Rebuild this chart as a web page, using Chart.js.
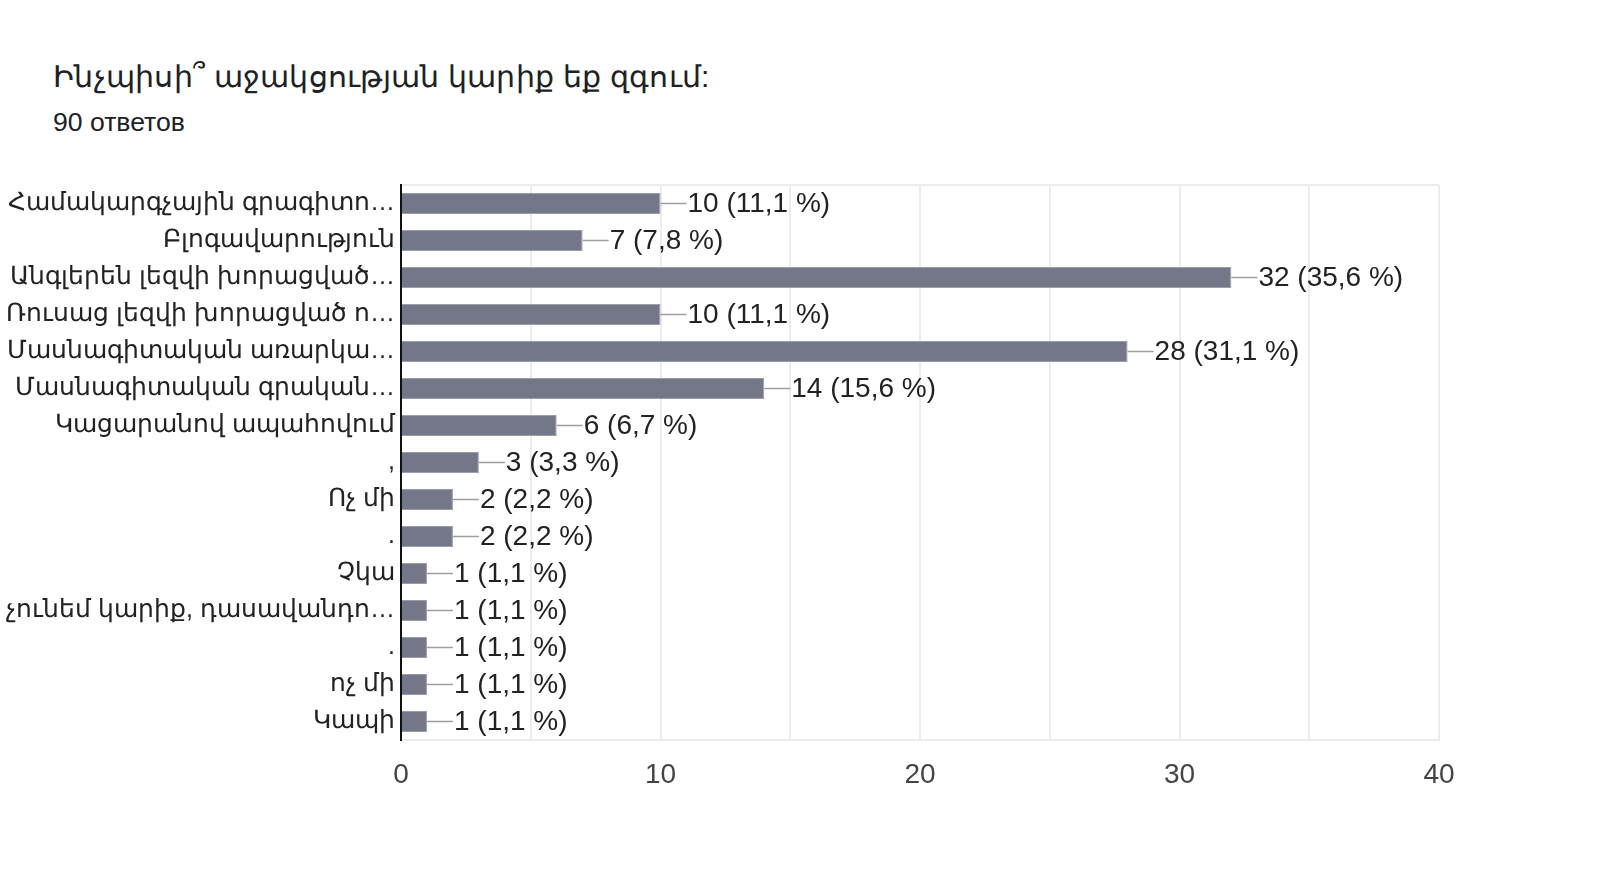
<!DOCTYPE html>
<html lang="hy">
<head>
<meta charset="UTF-8">
<title>Ինչպիսի՞ աջակցության կարիք եք զգում:</title>
<script src="https://cdn.jsdelivr.net/npm/chart.js"></script>
<style>
    body {
        margin: 0;
        background: #fff;
        font-family: "Liberation Sans", Arial, sans-serif;
        width: 1600px;
        height: 892px;
        overflow: hidden;
        position: relative;
    }
    .title {
        position: absolute;
        left: 53px;
        top: 59px;
        font-size: 30px;
        letter-spacing: 0.25px;
        color: #202124;
    }
    .subtitle {
        position: absolute;
        left: 53px;
        top: 107px;
        font-size: 26.6px;
        color: #202124;
    }
    .chart-box {
        position: absolute;
        left: 0;
        top: 1px;
        width: 1600px;
        height: 892px;
    }
</style>
</head>
<body>
<div class="title">Ինչպիսի՞ աջակցության կարիք եք զգում:</div>
<div class="subtitle">90 ответов</div>
<div class="chart-box"><canvas id="chart"></canvas></div>

<script>
    const categories = [
        'Համակարգչային գրագիտո…',
        'Բլոգավարություն',
        'Անգլերեն լեզվի խորացված…',
        'Ռուսաց լեզվի խորացված ո…',
        'Մասնագիտական առարկա…',
        'Մասնագիտական գրական…',
        'Կացարանով ապահովում',
        ',',
        'Ոչ մի',
        '.',
        'Չկա',
        'չունեմ կարիք, դասավանդո…',
        '.',
        'ոչ մի',
        'Կապի'
    ];
    const counts = [10, 7, 32, 10, 28, 14, 6, 3, 2, 2, 1, 1, 1, 1, 1];
    const percents = ['11,1', '7,8', '35,6', '11,1', '31,1', '15,6', '6,7', '3,3', '2,2', '2,2', '1,1', '1,1', '1,1', '1,1', '1,1'];
    const xTicks = [0, 10, 20, 30, 40];

    const FONT = '"Liberation Sans", Arial, sans-serif';

    // подписи значений с выноской
    const valueLabels = {
        id: 'valueLabels',
        afterDatasetsDraw(chart) {
            const ctx = chart.ctx;
            const meta = chart.getDatasetMeta(0);
            ctx.save();
            ctx.font = '28px ' + FONT;
            ctx.textBaseline = 'middle';
            ctx.textAlign = 'left';
            meta.data.forEach((bar, i) => {
                ctx.strokeStyle = '#9e9e9e';
                ctx.lineWidth = 1.5;
                ctx.beginPath();
                ctx.moveTo(bar.x, bar.y);
                ctx.lineTo(bar.x + 26, bar.y);
                ctx.stroke();
                ctx.fillStyle = '#222';
                ctx.fillText(counts[i] + ' (' + percents[i] + ' %)', bar.x + 27, bar.y + 1);
            });
            ctx.restore();
        }
    };

    new Chart(document.getElementById('chart'), {
        type: 'bar',
        data: {
            labels: categories,
            datasets: [{
                data: counts,
                backgroundColor: '#737787',
                borderColor: '#9a9daa',
                borderWidth: 1,
                categoryPercentage: 1,
                barPercentage: 0.57
            }]
        },
        options: {
            indexAxis: 'y',
            responsive: true,
            maintainAspectRatio: false,
            animation: false,
            layout: { padding: { top: 184, right: 161, bottom: 0, left: 0 } },
            plugins: {
                legend: { display: false },
                tooltip: { enabled: false }
            },
            scales: {
                x: {
                    min: 0,
                    max: 40,
                    afterBuildTicks(scale) {
                        scale.ticks = [];
                        for (let v = 0; v <= 40; v += 5) scale.ticks.push({ value: v });
                    },
                    afterFit(scale) { scale.height = 153; },
                    grid: { color: '#ececec', lineWidth: 2, drawTicks: false },
                    border: { display: true, color: '#ececec', width: 2 },
                    ticks: {
                        padding: 18,
                        color: '#444',
                        font: { size: 28, family: FONT },
                        callback: v => xTicks.includes(v) ? String(v) : ''
                    }
                },
                y: {
                    afterFit(scale) { scale.width = 401; },
                    grid: {
                        drawTicks: false,
                        lineWidth: 2,
                        color: c => (c.index === 0 || c.index === categories.length) ? '#ececec' : 'rgba(0,0,0,0)'
                    },
                    border: { display: true, color: '#111', width: 2 },
                    ticks: {
                        padding: 6,
                        color: '#222',
                        font: { size: 25, family: FONT },
                        autoSkip: false
                    }
                }
            }
        },
        plugins: [valueLabels]
    });
</script>
</body>
</html>
